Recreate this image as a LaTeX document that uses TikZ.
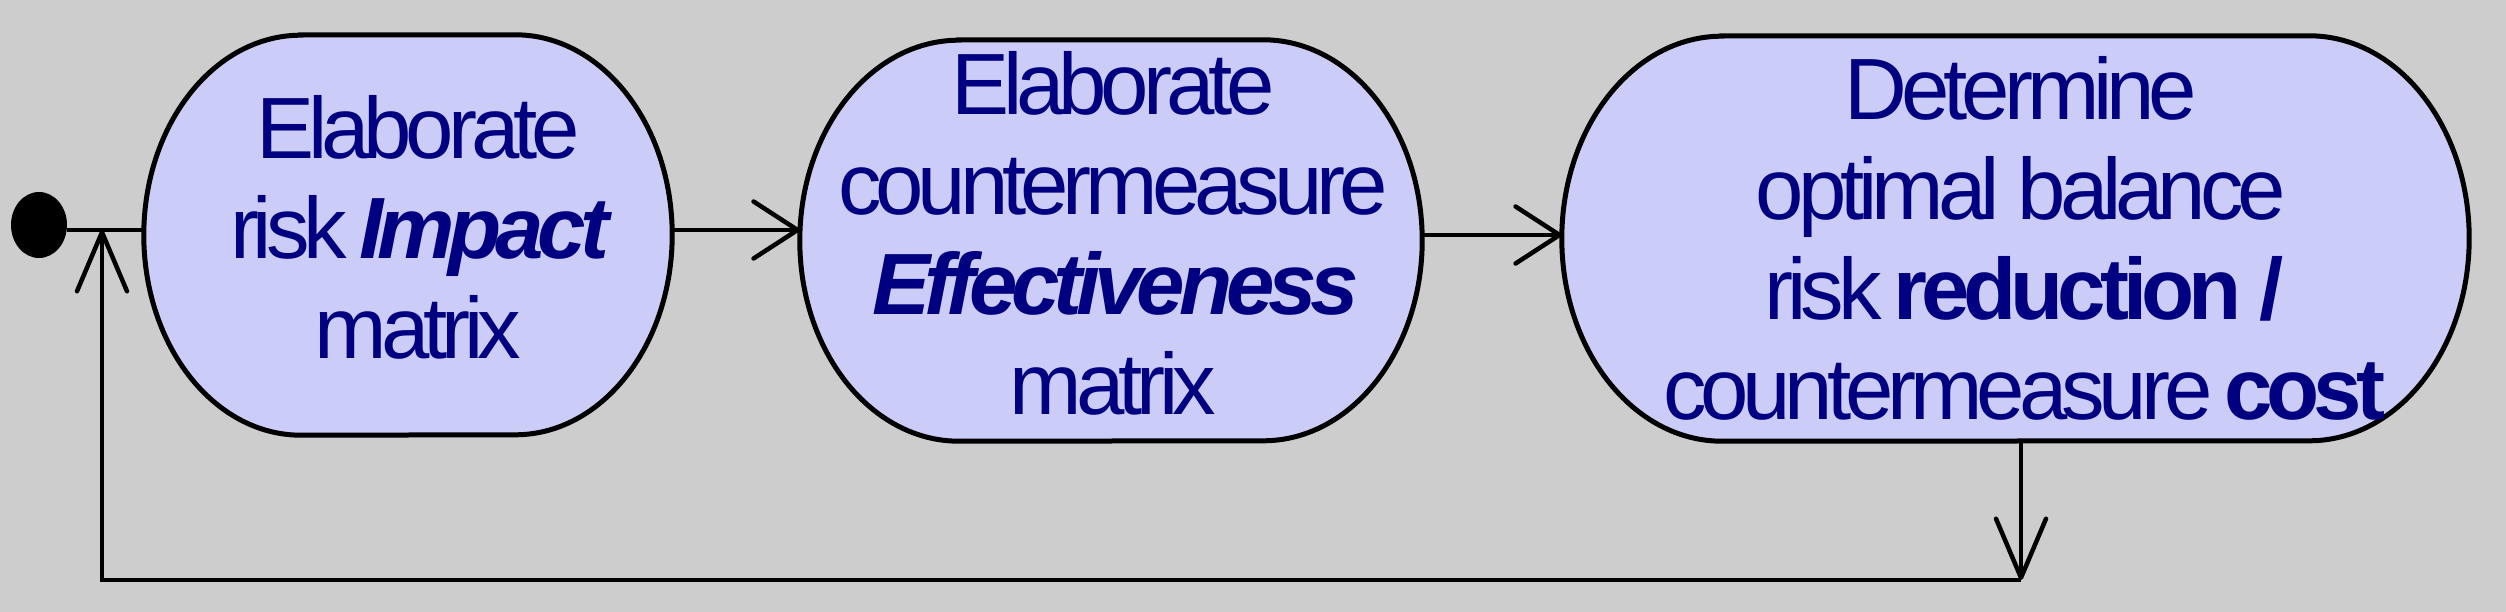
\documentclass[tikz,border=0pt]{standalone}
\usepackage{fontspec}
\setmainfont{Liberation Sans}[LetterSpace=-7]
\usetikzlibrary{arrows.meta,shapes.geometric,calc}
\definecolor{bggray}{RGB}{205,205,205}
\definecolor{boxfill}{RGB}{204,204,248}
\definecolor{textnavy}{RGB}{0,0,128}
\tikzset{
  boxarea/.style={rectangle, draw=none, inner sep=0pt},
  boxline/.style={draw=black, fill=boxfill, line width=5pt},
  lbl/.style={text=textnavy, align=center, inner sep=0pt,
              font=\fontsize{87pt}{100pt}\selectfont},
  flow/.style={draw=black, line width=4.5pt},
  harrow/.style={-{Straight Barb[length=44pt,width=57pt,line width=4.5pt,round]}},
  varrow/.style={-{Straight Barb[length=59pt,width=50pt,line width=4.5pt,round]}},
  initdot/.style={ellipse, fill=black, draw=none, minimum width=56pt, minimum height=66pt, inner sep=0pt}
}
\newcommand\stadium[3]{%
  \path[boxline] ([xshift=#2]#1.north west) -- ([xshift=-#2]#1.north east)
    arc[start angle=90,end angle=-90,x radius=#2,y radius=#3]
    -- ([xshift=#2]#1.south west)
    arc[start angle=270,end angle=90,x radius=#2,y radius=#3] -- cycle;}
\begin{document}
\begin{tikzpicture}[x=1pt,y=-1pt]
  \fill[bggray] (0,0) rectangle (2506,612);
  \useasboundingbox (0,0) rectangle (2506,612);
  % box areas
  \node[boxarea, minimum width=528pt, minimum height=400pt] (b1) at (408,235) {};
  \node[boxarea, minimum width=622pt, minimum height=401pt] (b2) at (1111,240.5) {};
  \node[boxarea, minimum width=907pt, minimum height=405pt] (b3) at (2015.5,238.5) {};
  \stadium{b1}{157pt}{200pt}
  \stadium{b2}{159pt}{200.5pt}
  \stadium{b3}{160pt}{202.5pt}
  % texts
  \node[lbl] (t1) at (418,227) {Elaborate\\risk \textbf{\textit{Impact}}\\matrix};
  \node[lbl] (t2) at (1113,233.5) {Elaborate\\countermeasure\\\textbf{\textit{Effectiveness}}\\matrix};
  \node[lbl] (t3) at (2021,238) {Determine\\optimal balance\\risk \textbf{reduction /}\\countermeasure \textbf{cost}};
  % initial node and loop
  \node[initdot] (init) at (39,225) {};
  \coordinate (j) at (102,230);
  \coordinate (c1) at (2021,580);
  \coordinate (c2) at (102,580);
  \draw[flow] (init.east |- j) -- (j -| b1.west);
  \draw[flow,harrow] (b1.east |- j) -- (b2.west |- j);
  \draw[flow,harrow] ([yshift=5.5pt]b2.east) -- ([yshift=3.5pt]b3.west);
  \draw[flow,varrow] (b3.south -| c1) -- (c1);
  \draw[flow,varrow] (c1) -- (c2) -- (j);
\end{tikzpicture}
\end{document}
